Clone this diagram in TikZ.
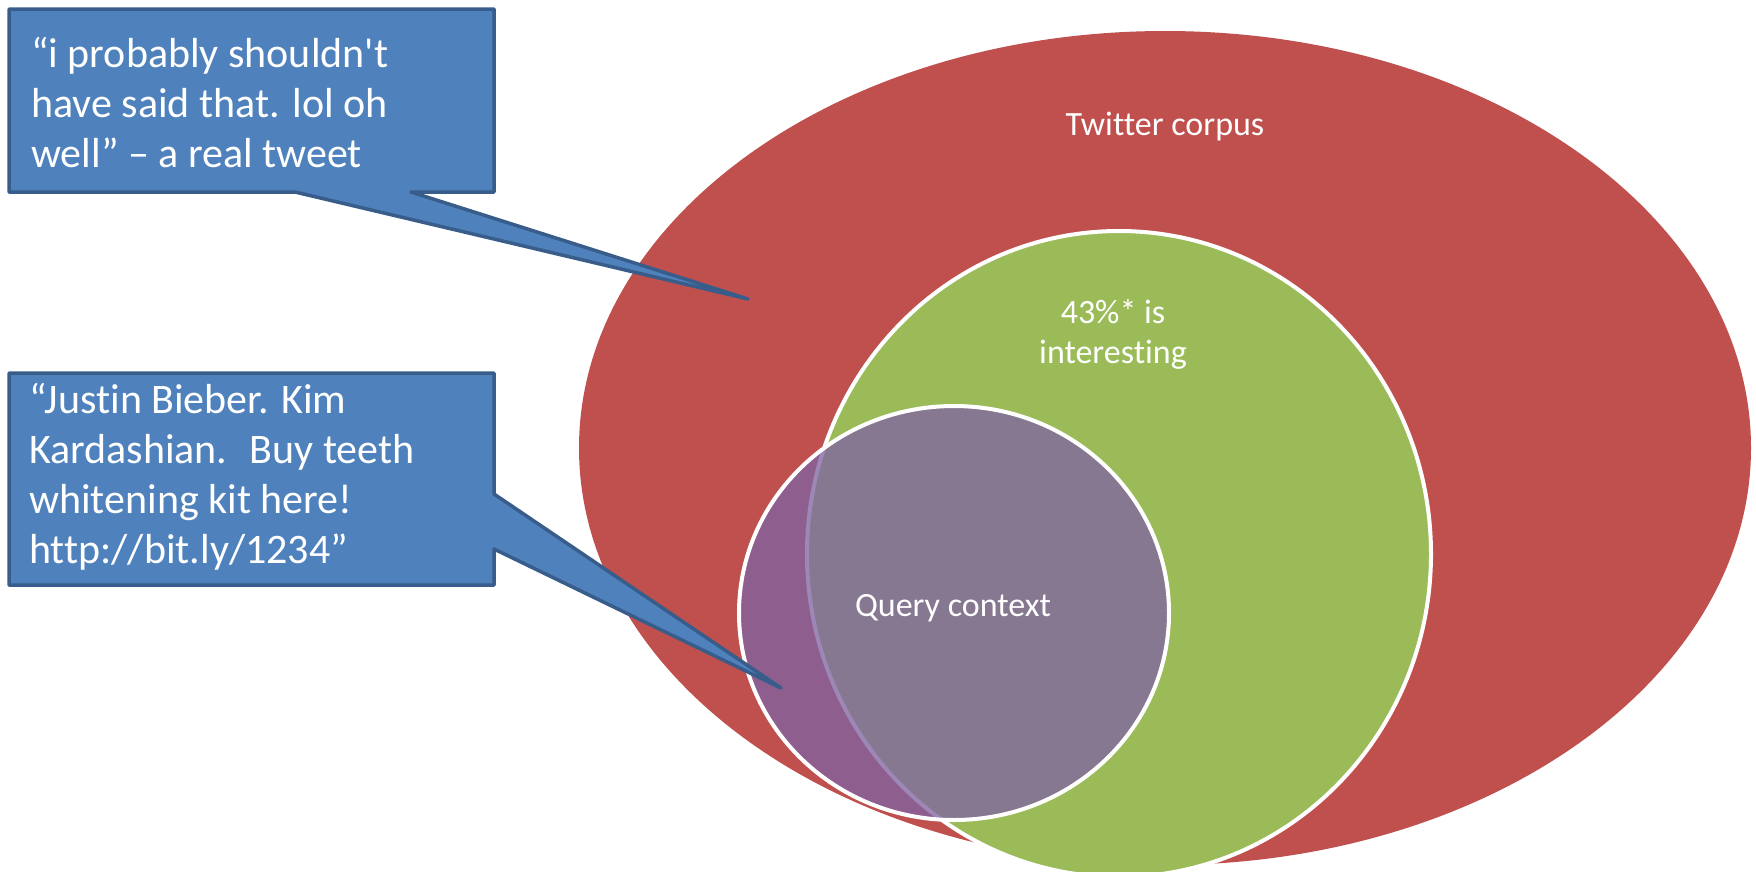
\documentclass[tikz,border=0pt]{standalone}
\usepackage{fontspec}
\newfontfamily\calibri{Carlito}[Ligatures = NoCommon]
\usepackage{xcolor}
\usetikzlibrary{calc}

\definecolor{corpusred}{HTML}{C0504D}
\definecolor{interestgreen}{HTML}{9BBB59}
\definecolor{querypurple}{HTML}{8064A2}
\definecolor{calloutblue}{HTML}{4F81BD}
\definecolor{calloutedge}{HTML}{385D8A}

\tikzset{
	setlabel/.style = {text = white, align = center, font = \calibri\fontsize{34}{40}\selectfont},
	callouttext/.style = {text = white, align = left, anchor = west, inner sep = 0pt, font = \calibri\fontsize{42}{50}\selectfont},
	calloutshape/.style = {fill = calloutblue, draw = calloutedge, line width = 3.5pt, line join = round},
	setring/.style = {draw = white, line width = 4pt}
}

\begin{document}
\begin{tikzpicture}[x = 1pt, y = -1pt]
	\clip (0,0) rectangle (1756,871);

	% the three sets
	\begin{scope}
		\fill [corpusred] (1165,448) ellipse [x radius = 586, y radius = 417];
		\draw [setring, fill = interestgreen] (1119,554) ellipse [x radius = 312, y radius = 323];
		\draw [setring, fill = querypurple, fill opacity = 0.77] (954,613) ellipse [x radius = 215, y radius = 207];
	\end{scope}

	\node [setlabel] (corpus) at (1165,127) {Twitter corpus};
	\node [setlabel] (interesting) at (1113,334) {43\%* is\\interesting};
	\node [setlabel] (query) at (953,608) {Query context};

	% callouts
	\coordinate (tipone) at (748,299);
	\coordinate (tiptwo) at (781,688);

	\begin{scope}
		\draw [calloutshape] (9,9) -- (494,9) -- (494,192) -- (411,192) -- (tipone) -- (295,192) -- (9,192) -- cycle;
		\draw [calloutshape] (9,373) -- (494,373) -- (494,494) -- (tiptwo) -- (494,549) -- (494,585) -- (9,585) -- cycle;
	\end{scope}

	\node [callouttext] (tweetone) at (31,103) {“i probably shouldn't\\have said that. lol oh\\well” – a real tweet};
	\node [callouttext] (tweettwo) at (29,477) {“Justin Bieber. Kim\\Kardashian.~ Buy teeth\\whitening kit here!\\http://bit.ly/1234”};
\end{tikzpicture}
\end{document}
